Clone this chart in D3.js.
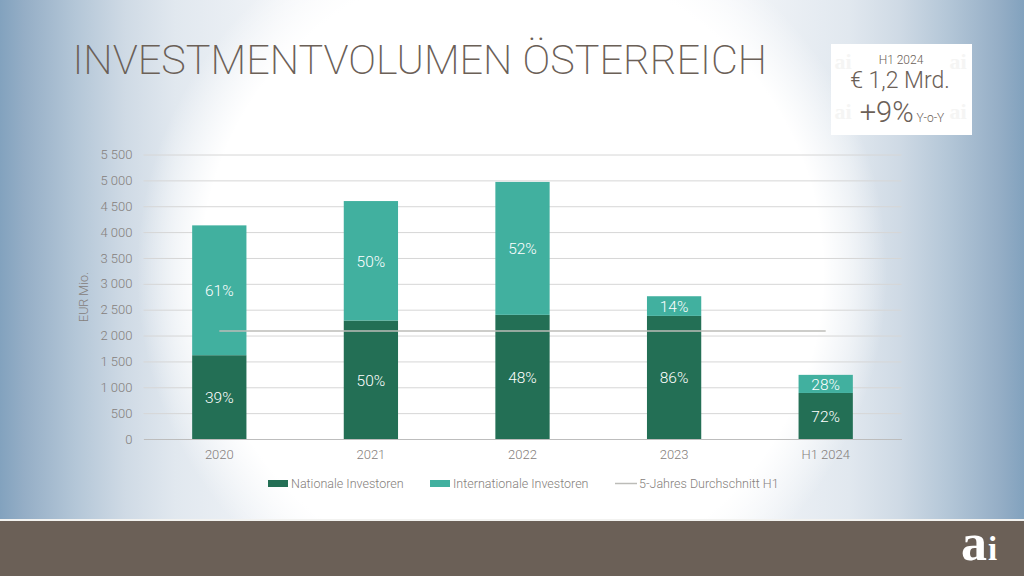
<!DOCTYPE html>
<html>
<head>
<meta charset="utf-8">
<script src="https://cdnjs.cloudflare.com/ajax/libs/d3/7.8.5/d3.min.js"></script>
<style>
html,body{margin:0;padding:0;background:#fff;}
svg{display:block;}
text{font-family:Roboto,"Liberation Sans",sans-serif;font-weight:300;}
</style>
</head>
<body>
<div id="chart"></div>
<script>
// Werte
var categories = ["2020","2021","2022","2023","H1 2024"];
var national = [1620,2290,2400,2380,890];
var international = [2510,2310,2570,380,350];
var nationalPct = ["39%","50%","48%","86%","72%"];
var internationalPct = ["61%","50%","52%","14%","28%"];
var average = [2090,2090,2090,2090,2090];
var yTicks = [0,500,1000,1500,2000,2500,3000,3500,4000,4500,5000,5500];
var legendLabels = ["Nationale Investoren","Internationale Investoren","5-Jahres Durchschnitt H1"];

var darkGreen="#236f55", lightGreen="#41b09f", textGrey="#85807c", brown="#6b6057";
var serif="'Liberation Serif','DejaVu Serif',serif";

var svg = d3.select("#chart").append("svg").attr("width",1024).attr("height",576);

// Hintergrund: horizontaler Verlauf, darueber weisser Kreis
var defs = svg.append("defs");
var side = defs.append("linearGradient").attr("id","side");
var sideStops = [[0,"#82a2be"],[0.024,"#95aec6"],[0.073,"#b3c6d7"],[0.122,"#cfdae5"],[0.171,"#e1e8ef"],[0.29,"#f4f6f9"],[0.4,"#ffffff"],
  [0.6,"#ffffff"],[0.71,"#f4f6f9"],[0.829,"#e1e8ef"],[0.878,"#cfdae5"],[0.927,"#b3c6d7"],[0.976,"#95aec6"],[1,"#82a2be"]];
sideStops.forEach(function(s){side.append("stop").attr("offset",s[0]).attr("stop-color",s[1]);});
var glow = defs.append("radialGradient").attr("id","glow")
  .attr("gradientUnits","userSpaceOnUse")
  .attr("cx",512).attr("cy",272).attr("r",375);
glow.append("stop").attr("offset","0.83").attr("stop-color","#fff").attr("stop-opacity",1);
glow.append("stop").attr("offset","1").attr("stop-color","#fff").attr("stop-opacity",0);
svg.append("rect").attr("width",1024).attr("height",576).attr("fill","url(#side)");
svg.append("rect").attr("width",1024).attr("height",576).attr("fill","url(#glow)");

// Fussleiste
svg.append("rect").attr("x",0).attr("y",519).attr("width",1024).attr("height",2).attr("fill","#f2f2f0");
svg.append("rect").attr("x",0).attr("y",521).attr("width",1024).attr("height",55).attr("fill",brown);
var logo = svg.append("text").attr("x",961).attr("y",560).attr("fill","#fff");
logo.append("tspan").text("a").style("font-family",serif).style("font-weight",700).style("font-size","52px");
logo.append("tspan").text("i").attr("dx",1).style("font-family",serif).style("font-weight",700).style("font-size","33px");

// Titel
svg.append("text").attr("x",72.5).attr("y",74).attr("fill",brown)
  .style("font-size","41.4px").style("font-weight",200).text("INVESTMENTVOLUMEN ÖSTERREICH");

// Box rechts oben
svg.append("rect").attr("x",831).attr("y",44).attr("width",141).attr("height",91).attr("fill","#fff");
[[843,69],[958,69],[843,119],[958,119]].forEach(function(p){
  svg.append("text").attr("x",p[0]).attr("y",p[1]).attr("text-anchor","middle").attr("fill","#f5f5f4")
    .style("font-family",serif).style("font-weight",700).style("font-size","22px").text("ai");
});
svg.append("text").attr("x",901).attr("y",64).attr("text-anchor","middle").attr("fill",brown).style("font-size","12px").text("H1 2024");
svg.append("text").attr("x",900).attr("y",88).attr("text-anchor","middle").attr("fill",brown).style("font-size","23px").text("€ 1,2 Mrd.");
var yoy = svg.append("text").attr("x",902).attr("y",122).attr("text-anchor","middle").attr("fill",brown);
yoy.append("tspan").text("+9%").style("font-size","29px");
yoy.append("tspan").text(" Y-o-Y").style("font-size","12px");

// Skalen
var x = d3.scaleBand().domain(categories).range([143.5,901.5]).paddingInner(0.642).paddingOuter(0.321);
var y = d3.scaleLinear().domain([0,5500]).range([439,154.5]);

// Achsen
var yAxis = d3.axisLeft(y).tickValues(yTicks).tickSize(-(901.5-143.5)).tickPadding(10)
  .tickFormat(function(d){return d>=1000? Math.floor(d/1000)+" "+d3.format("03")(d%1000): String(d);});
var yG = svg.append("g").attr("transform","translate(143.5,0)").call(yAxis);
yG.select(".domain").remove();
yG.selectAll("line").attr("stroke","#d6d6d6").attr("stroke-width",1);
yG.selectAll("text").attr("fill",textGrey).style("font-size","13px").attr("x",-11);

var xAxis = d3.axisBottom(x).tickSize(0).tickPadding(11);
var xG = svg.append("g").attr("transform","translate(0,439)").call(xAxis);
xG.select(".domain").attr("stroke","#bdbdbd");
xG.selectAll("text").attr("fill",textGrey).style("font-size","13px");

svg.append("text").attr("transform","translate(88,297) rotate(-90)").attr("text-anchor","middle")
  .attr("fill",textGrey).style("font-size","12.5px").text("EUR Mio.");

// Balken
var bw = x.bandwidth();
svg.append("g").selectAll("rect").data(categories).join("rect")
  .attr("x",function(d){return x(d);}).attr("width",bw)
  .attr("y",function(d,i){return y(national[i]);})
  .attr("height",function(d,i){return y(0)-y(national[i]);})
  .attr("fill",darkGreen);
svg.append("g").selectAll("rect").data(categories).join("rect")
  .attr("x",function(d){return x(d);}).attr("width",bw)
  .attr("y",function(d,i){return y(national[i]+international[i]);})
  .attr("height",function(d,i){return y(national[i])-y(national[i]+international[i]);})
  .attr("fill",lightGreen);

// Durchschnittslinie
var line = d3.line().x(function(d,i){return x(categories[i])+bw/2;}).y(function(d){return y(d);});
svg.append("path").attr("d",line(average)).attr("fill","none").attr("stroke","#bcbcb8").attr("stroke-width",1.5);

// Prozentwerte
svg.append("g").selectAll("text").data(categories).join("text")
  .attr("x",function(d){return x(d)+bw/2;})
  .attr("y",function(d,i){return y(national[i]/2)+6;})
  .attr("text-anchor","middle").attr("fill","#fff").style("font-size","15.5px")
  .text(function(d,i){return nationalPct[i];});
svg.append("g").selectAll("text").data(categories).join("text")
  .attr("x",function(d){return x(d)+bw/2;})
  .attr("y",function(d,i){return y(national[i]+international[i]/2)+6;})
  .attr("text-anchor","middle").attr("fill","#fff").style("font-size","15.5px")
  .text(function(d,i){return internationalPct[i];});

// Legende
var lg = svg.append("g");
lg.append("rect").attr("x",268).attr("y",480).attr("width",20).attr("height",7).attr("fill",darkGreen);
lg.append("rect").attr("x",430).attr("y",480).attr("width",20).attr("height",7).attr("fill",lightGreen);
lg.append("line").attr("x1",615).attr("x2",637).attr("y1",483.5).attr("y2",483.5).attr("stroke","#bcbcb8").attr("stroke-width",1.5);
[291,453,639].forEach(function(px,i){
  lg.append("text").attr("x",px).attr("y",488).attr("fill",textGrey).style("font-size","12.5px").text(legendLabels[i]);
});
</script>
</body>
</html>
